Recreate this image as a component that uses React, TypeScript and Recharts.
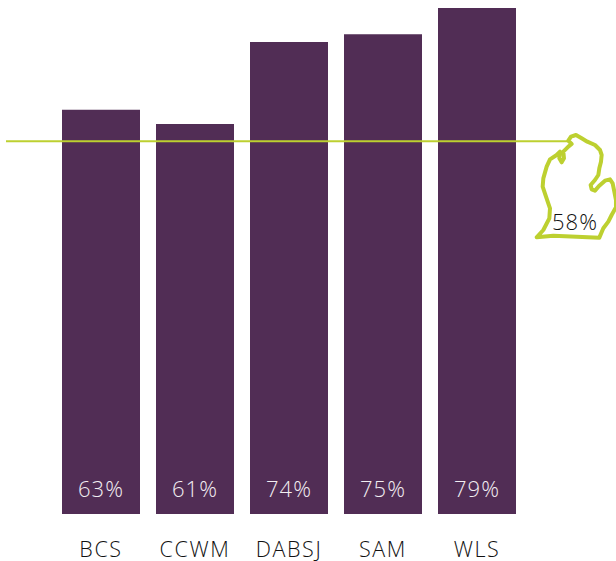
import { BarChart, Bar, XAxis, YAxis, ReferenceLine, LabelList } from 'recharts';

const districts = ['BCS', 'CCWM', 'DABSJ', 'SAM', 'WLS'];
const rates = [63.1, 60.9, 73.7, 74.9, 79];
const stateRate = 58.2;

const tableData = districts.map((name, i) => ({ name, rate: rates[i] }));

const FONT = '"Open Sans", "Noto Sans", sans-serif';
const PURPLE = '#512d55';
const GREEN = '#bdd030';

// outline of the state (3x units, see transform below)
const MICHIGAN =
  'M205 62 L213 50 L228 45 L245 55 L262 65 L285 75 L300 90 L305 105 L303 125 L298 145 L295 165 L285 180 L272 195 L275 208 L285 212 L297 198 L315 182 L330 178 L338 190 L343 215 L348 240 L348 262 L335 285 L325 305 L310 325 L298 353 L230 350 L160 347 L110 352 L130 330 L148 295 L150 265 L138 230 L128 200 L130 175 L140 140 L150 118 L170 105 L180 95 L178 115 L185 127 L192 115 L190 95 L205 80 L215 72 Z';

function StateLine(props: any) {
  const { x1, x2, y1 } = props;
  return (
    <g>
      <line x1={x1} x2={x2} y1={y1} y2={y1} stroke={GREEN} strokeWidth={2} />
      <path
        d={MICHIGAN}
        transform="translate(500 120) scale(0.3333)"
        fill="#fff"
        stroke={GREEN}
        strokeWidth={12}
        strokeLinejoin="round"
      />
      <text
        x={575}
        y={224}
        textAnchor="middle"
        dominantBaseline="middle"
        fontFamily={FONT}
        fontWeight={300}
        fontSize={22}
        letterSpacing={1}
        fill="#111"
      >
        {Math.floor(stateRate)}%
      </text>
    </g>
  );
}

export default function App() {
  return (
    <div style={{ position: 'absolute', left: 0, top: 0, background: '#fff' }}>
      <BarChart
        width={616}
        height={561}
        data={tableData}
        margin={{ top: 8, right: 46, bottom: 0, left: 6 }}
        barCategoryGap={8}
      >
        <XAxis
          dataKey="name"
          height={47}
          axisLine={false}
          tickLine={false}
          interval={0}
          padding={{ left: 48, right: 46 }}
          tickMargin={22}
          tick={{ fontFamily: FONT, fontWeight: 300, fontSize: 21.5, letterSpacing: 1.6, fill: '#111' }}
        />
        <YAxis hide domain={[0, 79]} />
        <Bar dataKey="rate" fill={PURPLE} isAnimationActive={false}>
          <LabelList
            dataKey="rate"
            position="insideBottom"
            offset={17}
            formatter={(v: any) => `${Math.round(v)}%`}
            style={{ fontFamily: FONT, fontWeight: 300, fontSize: 22, letterSpacing: 1, fill: '#f2eef2' }}
          />
        </Bar>
        <ReferenceLine y={stateRate} shape={StateLine} />
      </BarChart>
    </div>
  );
}
